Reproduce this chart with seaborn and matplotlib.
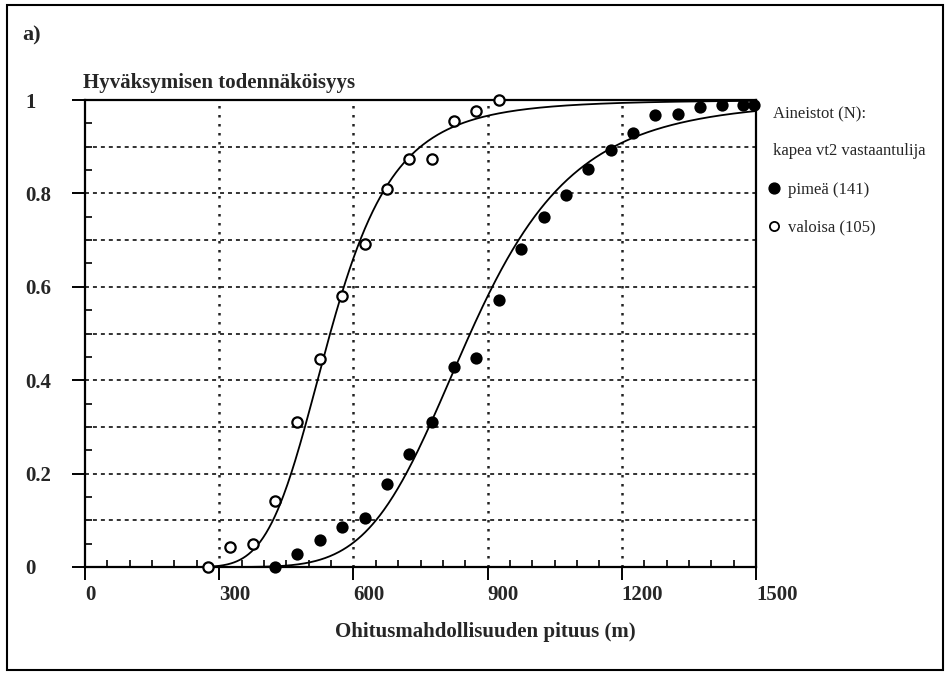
import numpy as np
import pandas as pd
import matplotlib
matplotlib.use("Agg")
import matplotlib.pyplot as plt
from matplotlib.lines import Line2D
from matplotlib.patches import Rectangle
from matplotlib.ticker import MultipleLocator
import seaborn as sns

# Observed acceptance shares per 50 m class of passing-opportunity length
pituus_pimea = [425, 475, 525, 575, 625, 675, 725, 775, 825, 875, 925, 975,
                1025, 1075, 1125, 1175, 1225, 1275, 1325, 1375, 1425, 1470, 1495]
osuus_pimea = [0.0, 0.027, 0.058, 0.086, 0.104, 0.177, 0.241, 0.310, 0.428,
               0.447, 0.572, 0.680, 0.750, 0.797, 0.852, 0.893, 0.930, 0.968,
               0.970, 0.986, 0.989, 0.989, 0.989]

pituus_valoisa = [275, 325, 375, 425, 475, 525, 575, 625, 675, 725, 775, 825, 875, 925]
osuus_valoisa = [0.0, 0.043, 0.049, 0.142, 0.310, 0.445, 0.581, 0.692, 0.809,
                 0.873, 0.873, 0.954, 0.977, 1.0]

# Fitted acceptance models: shifted log-logistic (shift, 50 % length, slope)
malli_pimea = (250.0, 861.0, 5.2)
malli_valoisa = (200.0, 548.0, 4.8)

x_ticks = [0, 300, 600, 900, 1200, 1500]
x_ticklabels = ["0", "300", "600", "900", "1200", "1500"]
y_ticks = [0, 0.2, 0.4, 0.6, 0.8, 1.0]
y_ticklabels = ["0", "0.2", "0.4", "0.6", "0.8", "1"]

legend_labels = ["pimeä (141)", "valoisa (105)"]


def hyvaksyminen(x, malli):
    c, x50, b = malli
    return 1.0 / (1.0 + ((x - c) / (x50 - c)) ** (-b))


sns.set_theme(style="white")
plt.rcParams["font.family"] = ["Liberation Serif", "DejaVu Serif"]
plt.rcParams["mathtext.default"] = "regular"

W, H = 947, 675
fig = plt.figure(figsize=(W / 100, H / 100), dpi=100)


def fx(px):
    return px / W


def fy(py):
    return 1 - py / H


ax = fig.add_axes([fx(85), fy(567), fx(756) - fx(85), fy(100) - fy(567)])
ax.set_xlim(0, 1500)
ax.set_ylim(0, 1)
ax.set_facecolor("white")

# grid
for yv in np.arange(0.1, 1.0, 0.1):
    ax.axhline(yv, color="#222222", lw=1.3, ls=(0, (2.2, 2.2)), zorder=1)
for xv in x_ticks[1:-1]:
    ax.axvline(xv, color="#222222", lw=1.8, ls=(0, (1.0, 2.6)), zorder=1)

# fitted curves
for malli in (malli_valoisa, malli_pimea):
    xs = np.linspace(malli[0] + 1.0, 1500, 600)
    sns.lineplot(x=xs, y=hyvaksyminen(xs, malli), ax=ax, color="black",
                 lw=1.3, zorder=3, legend=False)

# observations
sns.scatterplot(x=pituus_pimea, y=osuus_pimea, ax=ax, color="black",
                s=78, linewidth=0, zorder=4, legend=False, clip_on=False)
sns.scatterplot(x=pituus_valoisa, y=osuus_valoisa, ax=ax, facecolor="white",
                edgecolor="black", s=55, linewidth=1.6, zorder=4, legend=False,
                clip_on=False)

for sp in ax.spines.values():
    sp.set_visible(True)
    sp.set_color("black")
    sp.set_linewidth(1.6)

ax.set_xticks(x_ticks)
ax.set_xticklabels(x_ticklabels, ha="left", fontsize=15, fontweight="bold")
ax.set_yticks(y_ticks)
ax.set_yticklabels(y_ticklabels, ha="left", fontsize=15, fontweight="bold")
ax.xaxis.set_minor_locator(MultipleLocator(50))
ax.yaxis.set_minor_locator(MultipleLocator(0.05))
ax.tick_params(axis="both", which="major", direction="out", length=9.4,
               width=1.4, color="black", left=True, bottom=True)
ax.tick_params(axis="x", which="major", pad=3.6)
ax.tick_params(axis="y", which="major", pad=33.8)
ax.tick_params(axis="both", which="minor", direction="in", length=5,
               width=1.2, color="black", left=True, bottom=True)
ax.set_xlabel("")
ax.set_ylabel("")

fig.text(fx(22), fy(40), "a)", fontsize=16, fontweight="bold", va="baseline")
fig.text(fx(83), fy(88), "Hyväksymisen todennäköisyys", fontsize=15,
         fontweight="bold", va="baseline")
fig.text(fx(485), fy(632), "Ohitusmahdollisuuden pituus (m)", fontsize=15,
         fontweight="bold", ha="center", va="center")

fig.text(fx(773), fy(114), "Aineistot (N):", fontsize=12, va="center")
fig.text(fx(773), fy(151), "kapea vt2 vastaantulija", fontsize=12, va="center")

handles = [
    Line2D([], [], ls="", marker="o", ms=7.8, mfc="black", mec="black"),
    Line2D([], [], ls="", marker="o", ms=6.6, mfc="white", mec="black", mew=1.3),
]
fig.legend(handles, legend_labels, loc="upper left",
           bbox_to_anchor=(fx(766), fy(182)), frameon=False, fontsize=12,
           handlelength=1.0, handletextpad=0.3, labelspacing=1.3,
           borderpad=0, borderaxespad=0)

fig.add_artist(Rectangle((fx(7), fy(670)), fx(943) - fx(7), fy(5) - fy(670),
                         transform=fig.transFigure, fill=False, lw=1.5,
                         ec="black"))

fig.savefig("out.png", dpi=100)
